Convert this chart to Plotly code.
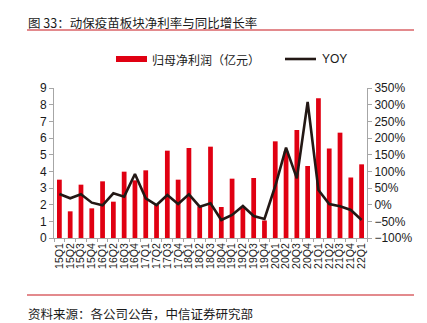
import plotly.graph_objects as go

# Quarterly data, 15Q1 .. 22Q1
quarters = [
    "15Q1", "15Q2", "15Q3", "15Q4",
    "16Q1", "16Q2", "16Q3", "16Q4",
    "17Q1", "17Q2", "17Q3", "17Q4",
    "18Q1", "18Q2", "18Q3", "18Q4",
    "19Q1", "19Q2", "19Q3", "19Q4",
    "20Q1", "20Q2", "20Q3", "20Q4",
    "21Q1", "21Q2", "21Q3", "21Q4",
    "22Q1",
]
net_profit = [
    3.5, 1.6, 3.2, 1.78,
    3.4, 2.18, 3.98, 3.46,
    4.06, 2.0, 5.24, 3.5,
    5.4, 1.9, 5.48, 1.86,
    3.56, 1.8, 3.6, 1.05,
    5.8, 5.2, 6.48, 4.32,
    8.38, 5.37, 6.32, 3.63,
    4.42,
]
yoy_pct = [
    32, 19, 31, 6,
    -2, 34, 24, 92,
    19, -1, 29, 2,
    31, -6, 4, -46,
    -31, -4, -34, -43,
    56, 171, 79, 308,
    44, 2, -5, -16,
    -46,
]

BAR_RED = "#E00012"
LINE_DARK = "#231815"
RULE_RED = "#C8161D"
AXIS_GRAY = "#A6A6A6"
TEXT = "#1A1A1A"
CJK = "Noto Sans CJK SC"
LATIN = "Liberation Sans, Arial"

W, H = 427, 323
ML, MR, MT, MB = 54, 60, 88, 85
PW, PH = W - ML - MR, H - MT - MB


def px(x):
    return (x - ML) / PW


def py(y):
    return (H - MB - y) / PH


fig = go.Figure()
fig.add_trace(go.Bar(
    x=quarters, y=net_profit, name="归母净利润（亿元）",
    marker=dict(color=BAR_RED, line=dict(width=0)), yaxis="y",
))
fig.add_trace(go.Scatter(
    x=quarters, y=yoy_pct, name="YOY", mode="lines",
    line=dict(color=LINE_DARK, width=2.6), yaxis="y2",
))

shapes = [
    # rule under the heading
    dict(type="line", xref="paper", yref="paper", x0=px(27), x1=px(414),
         y0=py(30), y1=py(30), line=dict(color=RULE_RED, width=1.2)),
    # rule above the source note
    dict(type="line", xref="paper", yref="paper", x0=px(27), x1=px(414),
         y0=py(295), y1=py(295), line=dict(color=RULE_RED, width=1.2)),
    # legend keys
    dict(type="rect", xref="paper", yref="paper", x0=px(116), x1=px(147),
         y0=py(62), y1=py(56), fillcolor=BAR_RED, line=dict(width=0)),
    dict(type="line", xref="paper", yref="paper", x0=px(285), x1=px(316),
         y0=py(59), y1=py(59), line=dict(color=LINE_DARK, width=2.6)),
]

annotations = [
    dict(text="图 33：动保疫苗板块净利率与同比增长率", xref="paper", yref="paper",
         x=px(26), y=py(22), xanchor="left", yanchor="middle", showarrow=False,
         font=dict(family=CJK, size=12.5, color=TEXT)),
    dict(text="归母净利润（亿元）", xref="paper", yref="paper",
         x=px(150), y=py(59), xanchor="left", yanchor="middle", showarrow=False,
         font=dict(family=CJK, size=12, color=TEXT)),
    dict(text="YOY", xref="paper", yref="paper",
         x=px(320), y=py(59), xanchor="left", yanchor="middle", showarrow=False,
         font=dict(family=LATIN, size=12, color=TEXT)),
    dict(text="资料来源：各公司公告，中信证券研究部", xref="paper", yref="paper",
         x=px(26), y=py(313), xanchor="left", yanchor="middle", showarrow=False,
         font=dict(family=CJK, size=12.5, color=TEXT)),
]

fig.update_layout(
    width=W, height=H,
    margin=dict(l=ML, r=MR, t=MT, b=MB),
    paper_bgcolor="white", plot_bgcolor="white",
    showlegend=False,
    bargap=0.56,
    shapes=shapes,
    annotations=annotations,
    xaxis=dict(
        type="category", range=[-0.5, len(quarters) - 0.5],
        tickmode="array", tickvals=quarters, ticktext=quarters,
        showline=True, linecolor=AXIS_GRAY, linewidth=1,
        ticks="outside", tickson="boundaries", ticklen=3, tickcolor=AXIS_GRAY,
        tickangle=-90, showgrid=False, zeroline=False,
        tickfont=dict(family=LATIN, size=10.5, color=TEXT),
    ),
    yaxis=dict(
        range=[0, 9], dtick=1, showgrid=False, zeroline=False,
        showline=True, linecolor=AXIS_GRAY, linewidth=1,
        ticks="outside", ticklen=4, tickcolor=AXIS_GRAY,
        tickfont=dict(family=LATIN, size=12, color=TEXT),
    ),
    yaxis2=dict(
        range=[-100, 350], dtick=50, ticksuffix="%", overlaying="y", side="right",
        showgrid=False, zeroline=False,
        showline=True, linecolor=AXIS_GRAY, linewidth=1,
        ticks="outside", ticklen=4, tickcolor=AXIS_GRAY,
        tickfont=dict(family=LATIN, size=12, color=TEXT),
    ),
)

fig.write_html("out.html")
